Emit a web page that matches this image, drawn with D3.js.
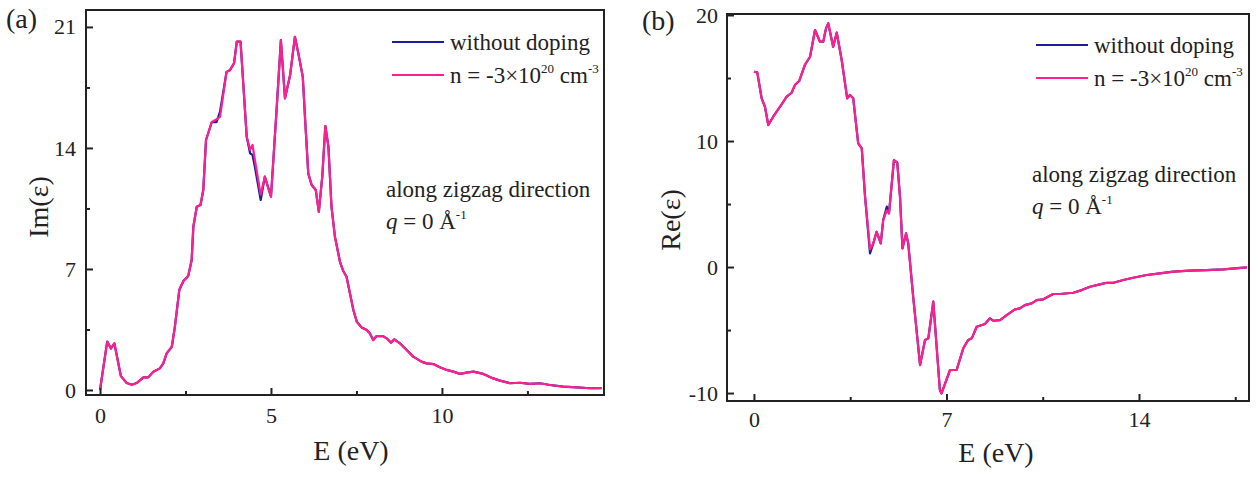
<!DOCTYPE html>
<html>
<head>
<meta charset="utf-8">
<script src="https://cdn.jsdelivr.net/npm/d3@7"></script>
<style>
  html, body { margin: 0; padding: 0; background: #fff; }
  svg { display: block; }
  text { font-family: "Liberation Serif", "Times New Roman", serif; fill: #222; }
</style>
</head>
<body>
<svg id="chart" width="1258" height="477" font-family='"Liberation Serif", "Times New Roman", serif'></svg>
<script>
// Dielectric function, zigzag direction, q = 0 — (a) Im(eps), (b) Re(eps)

const SERIES_LABELS = ['without doping', 'n = -3×10^20 cm^-3'];
const SERIES_COLORS = ['#1c1c9c', '#ff1f8e'];

// panel (a) Im(eps)
const imEnergy = [0, 0.21, 0.32, 0.42, 0.61, 0.78, 0.93, 1.07, 1.27, 1.41, 1.56, 1.75, 1.85, 1.95, 2.1,
  2.19, 2.32, 2.44, 2.58, 2.68, 2.73, 2.83, 2.94, 3.02, 3.1, 3.27, 3.41, 3.51, 3.7, 3.8,
  3.92, 4.0, 4.11, 4.29, 4.39, 4.46, 4.53, 4.7, 4.82, 5.0, 5.17, 5.29, 5.41, 5.56, 5.7,
  5.8, 5.93, 6.0, 6.09, 6.19, 6.31, 6.4, 6.5, 6.59, 6.68, 6.77, 6.87, 7.02, 7.11, 7.21,
  7.31, 7.41, 7.51, 7.65, 7.8, 7.89, 7.99, 8.09, 8.28, 8.38, 8.51, 8.61, 8.77, 8.97, 9.16,
  9.4, 9.55, 9.75, 9.94, 10.14, 10.33, 10.53, 10.72, 10.92, 11.21, 11.5, 11.7, 11.99, 12.28, 12.57,
  12.87, 13.16, 13.55, 13.94, 14.33, 14.67];
const imUndoped = [0, 2.8, 2.4, 2.7, 0.8, 0.4, 0.3, 0.4, 0.73, 0.73, 1.06, 1.25, 1.54, 2.12, 2.5,
  3.66, 5.8, 6.3, 6.6, 7.5, 9.45, 10.6, 10.7, 11.57, 14.46, 15.5, 15.5, 16.1, 18.4, 18.5,
  18.9, 20.15, 20.15, 14.65, 13.69, 13.6, 12.9, 10.99, 12.34, 11.18, 16.39, 20.24, 16.87, 18.22, 20.43,
  19.47, 18.12, 15.62, 12.53, 11.86, 11.57, 10.31, 12.34, 15.27, 14.07, 10.6, 8.87, 7.4, 6.9, 6.55,
  5.59, 4.63, 3.95, 3.62, 3.47, 3.28, 2.89, 3.12, 3.12, 2.99, 2.74, 2.93, 2.7, 2.31, 1.93,
  1.64, 1.54, 1.5, 1.31, 1.16, 1.06, 0.93, 1.0, 1.06, 0.93, 0.67, 0.54, 0.39, 0.42, 0.35,
  0.39, 0.29, 0.19, 0.15, 0.1, 0.1];
const imDoped = [0, 2.8, 2.4, 2.7, 0.8, 0.4, 0.3, 0.4, 0.73, 0.73, 1.06, 1.25, 1.54, 2.12, 2.5,
  3.66, 5.8, 6.3, 6.6, 7.5, 9.45, 10.6, 10.7, 11.57, 14.46, 15.5, 15.66, 15.8, 18.4, 18.5,
  18.9, 20.15, 20.15, 14.65, 13.9, 14.17, 13.3, 11.3, 12.34, 11.18, 16.39, 20.24, 16.87, 18.22, 20.43,
  19.47, 18.12, 15.62, 12.53, 11.86, 11.57, 10.31, 12.34, 15.27, 14.07, 10.6, 8.87, 7.4, 6.9, 6.55,
  5.59, 4.63, 3.95, 3.62, 3.47, 3.28, 2.89, 3.12, 3.12, 2.99, 2.74, 2.93, 2.7, 2.31, 1.93,
  1.64, 1.54, 1.5, 1.31, 1.16, 1.06, 0.93, 1.0, 1.06, 0.93, 0.67, 0.54, 0.39, 0.42, 0.35,
  0.39, 0.29, 0.19, 0.15, 0.1, 0.1];

// panel (b) Re(eps)
const reEnergy = [0, 0.12, 0.28, 0.4, 0.52, 0.7, 0.95, 1.19, 1.37, 1.49, 1.65, 1.85, 2.04, 2.22, 2.4,
  2.52, 2.62, 2.7, 2.88, 3.01, 3.19, 3.39, 3.49, 3.61, 3.79, 3.92, 4.04, 4.22, 4.34, 4.46,
  4.61, 4.7, 4.83, 4.91, 5.09, 5.21, 5.31, 5.4, 5.53, 5.61, 5.79, 6.04, 6.22, 6.34, 6.52,
  6.76, 6.82, 7.13, 7.37, 7.61, 7.79, 7.92, 8.1, 8.4, 8.58, 8.7, 8.95, 9.19, 9.49, 9.67,
  9.85, 10.1, 10.28, 10.52, 10.88, 11.13, 11.61, 11.92, 12.22, 12.58, 12.83, 13.07, 13.43, 13.79, 14.28,
  14.76, 15.25, 15.85, 16.46, 17.07, 17.92];
const reUndoped = [15.5, 15.45, 13.39, 12.72, 11.27, 11.93, 12.72, 13.52, 13.83, 14.44, 14.79, 16.03, 16.69, 18.81, 17.88,
  17.88, 18.94, 19.34, 17.48, 18.6, 16.43, 13.39, 13.65, 13.39, 9.82, 9.42, 5.58, 1.09, 1.88, 2.8,
  1.88, 3.73, 4.79, 4.26, 8.49, 8.28, 5.58, 1.48, 2.67, 1.88, -2.36, -7.78, -5.79, -5.66, -2.75,
  -9.76, -10.03, -8.17, -8.17, -6.45, -5.79, -5.66, -4.74, -4.52, -4.07, -4.26, -4.21, -3.81, -3.36, -3.28,
  -3.02, -2.88, -2.62, -2.56, -2.14, -2.14, -2.04, -1.83, -1.56, -1.37, -1.25, -1.25, -1.03, -0.85, -0.63,
  -0.5, -0.37, -0.29, -0.24, -0.18, -0.02];
const reDoped = [15.5, 15.45, 13.39, 12.72, 11.27, 11.93, 12.72, 13.52, 13.83, 14.44, 14.79, 16.03, 16.69, 18.81, 17.88,
  17.88, 18.94, 19.34, 17.48, 18.6, 16.43, 13.39, 13.65, 13.39, 9.82, 9.42, 5.58, 1.4, 1.88, 2.8,
  1.88, 3.73, 4.5, 4.26, 8.49, 8.28, 5.58, 1.48, 2.67, 1.88, -2.36, -7.78, -5.79, -5.66, -2.75,
  -9.76, -10.03, -8.17, -8.17, -6.45, -5.79, -5.66, -4.74, -4.52, -4.07, -4.26, -4.21, -3.81, -3.36, -3.28,
  -3.02, -2.88, -2.62, -2.56, -2.14, -2.14, -2.04, -1.83, -1.56, -1.37, -1.25, -1.25, -1.03, -0.85, -0.63,
  -0.5, -0.37, -0.29, -0.24, -0.18, -0.02];

const imXTicks = [0, 5, 10], imXMinor = [2.5, 7.5, 12.5];
const imYTicks = [0, 7, 14, 21], imYMinor = [3.5, 10.5, 17.5];
const reXTicks = [0, 7, 14], reXMinor = [3.5, 10.5, 17.5];
const reYTicks = [-10, 0, 10, 20], reYMinor = [-5, 5, 15];

const svg = d3.select('#chart');
const INK = '#222';

function drawPanel(p) {
  const x = d3.scaleLinear().domain(p.xDomain).range([p.left, p.right]);
  const y = d3.scaleLinear().domain(p.yDomain).range([p.bottom, p.top]);
  const g = svg.append('g');

  // curves: undoped first, doped drawn on top
  const line = d3.line().x(d => x(d[0])).y(d => y(d[1]));
  p.series.forEach((vals, i) => {
    g.append('path')
      .datum(p.energy.map((e, k) => [e, vals[k]]))
      .attr('d', line)
      .attr('fill', 'none')
      .attr('stroke', SERIES_COLORS[i])
      .attr('stroke-width', 2.2)
      .attr('stroke-linejoin', 'round');
  });

  // inward ticks
  const styleAxis = sel => {
    sel.select('.domain').remove();
    sel.selectAll('line').attr('stroke', INK).attr('stroke-width', 2);
    sel.selectAll('text')
      .attr('font-size', 22)
      .attr('font-family', '"Liberation Serif", "Times New Roman", serif')
      .attr('fill', INK);
  };
  g.append('g').attr('transform', `translate(0,${p.bottom})`)
    .call(d3.axisBottom(x).tickValues(p.xTicks).tickSize(-7).tickPadding(p.xPad).tickFormat(d3.format('d')))
    .call(styleAxis);
  g.append('g').attr('transform', `translate(0,${p.bottom})`)
    .call(d3.axisBottom(x).tickValues(p.xMinor).tickSize(-4).tickFormat(''))
    .call(styleAxis);
  g.append('g').attr('transform', `translate(${p.left},0)`)
    .call(d3.axisLeft(y).tickValues(p.yTicks).tickSize(-7).tickPadding(p.yPad).tickFormat(d => d < 0 ? '-' + Math.abs(d) : d))
    .call(styleAxis);
  g.append('g').attr('transform', `translate(${p.left},0)`)
    .call(d3.axisLeft(y).tickValues(p.yMinor).tickSize(-4).tickFormat(''))
    .call(styleAxis);

  g.append('rect')
    .attr('x', p.left).attr('y', p.top)
    .attr('width', p.right - p.left).attr('height', p.bottom - p.top)
    .attr('fill', 'none').attr('stroke', INK).attr('stroke-width', 2);

  // axis titles
  g.append('text')
    .attr('x', (p.left + p.right) / 2 + p.xTitleDx).attr('y', p.xTitleY)
    .attr('text-anchor', 'middle').attr('font-size', 28)
    .text('E (eV)');
  g.append('text')
    .attr('transform', `translate(${p.yTitleX},${p.yTitleY}) rotate(-90)`)
    .attr('text-anchor', 'middle').attr('dy', '0.35em').attr('font-size', 28)
    .text(p.yTitle);

  g.append('text')
    .attr('x', p.tagX).attr('y', p.tagY)
    .attr('font-size', 28)
    .text(p.tag);

  // legend
  SERIES_LABELS.forEach((label, i) => {
    const ly = p.legendY + i * 33;
    g.append('line')
      .attr('x1', p.legendX).attr('x2', p.legendX + 52)
      .attr('y1', ly).attr('y2', ly)
      .attr('stroke', SERIES_COLORS[i]).attr('stroke-width', 2.2);
    const t = g.append('text')
      .attr('x', p.legendX + 58).attr('y', ly).attr('dy', '0.33em')
      .attr('font-size', 23);
    const parts = label.split(/\^(\S+)/);
    parts.forEach((s, k) => {
      if (k % 2 === 1) {
        t.append('tspan').attr('font-size', 13).attr('dy', -10).text(s);
      } else if (s) {
        t.append('tspan').attr('dy', k > 0 ? 10 : null).text(s);
      }
    });
  });

  // annotation
  g.append('text')
    .attr('x', p.noteX).attr('y', p.noteY)
    .attr('font-size', 23)
    .text('along zigzag direction');
  const q = g.append('text')
    .attr('x', p.noteX).attr('y', p.noteY + 32)
    .attr('font-size', 23);
  q.append('tspan').attr('font-style', 'italic').text('q');
  q.append('tspan').text(' = 0 Å');
  q.append('tspan').attr('font-size', 13).attr('dy', -10).text('-1');
}

drawPanel({
  tag: '(a)', tagX: 6, tagY: 28,
  left: 86, right: 604, top: 10, bottom: 395,
  xDomain: [-0.41, 14.74], yDomain: [-0.29, 21.98],
  xTicks: imXTicks, xMinor: imXMinor, yTicks: imYTicks, yMinor: imYMinor,
  xPad: 12, yPad: 10,
  energy: imEnergy, series: [imUndoped, imDoped],
  yTitle: 'Im(ε)', yTitleX: 38, yTitleY: 207,
  xTitleDx: 6, xTitleY: 460,
  legendX: 392, legendY: 42,
  noteX: 386, noteY: 197
});

drawPanel({
  tag: '(b)', tagX: 642, tagY: 30,
  left: 727, right: 1249, top: 14, bottom: 401,
  xDomain: [-0.98, 18.0], yDomain: [-10.63, 20.08],
  xTicks: reXTicks, xMinor: reXMinor, yTicks: reYTicks, yMinor: reYMinor,
  xPad: 10, yPad: 9,
  energy: reEnergy, series: [reUndoped, reDoped],
  yTitle: 'Re(ε)', yTitleX: 670, yTitleY: 220,
  xTitleDx: 8, xTitleY: 462,
  legendX: 1036, legendY: 45,
  noteX: 1032, noteY: 182
});
</script>
</body>
</html>
